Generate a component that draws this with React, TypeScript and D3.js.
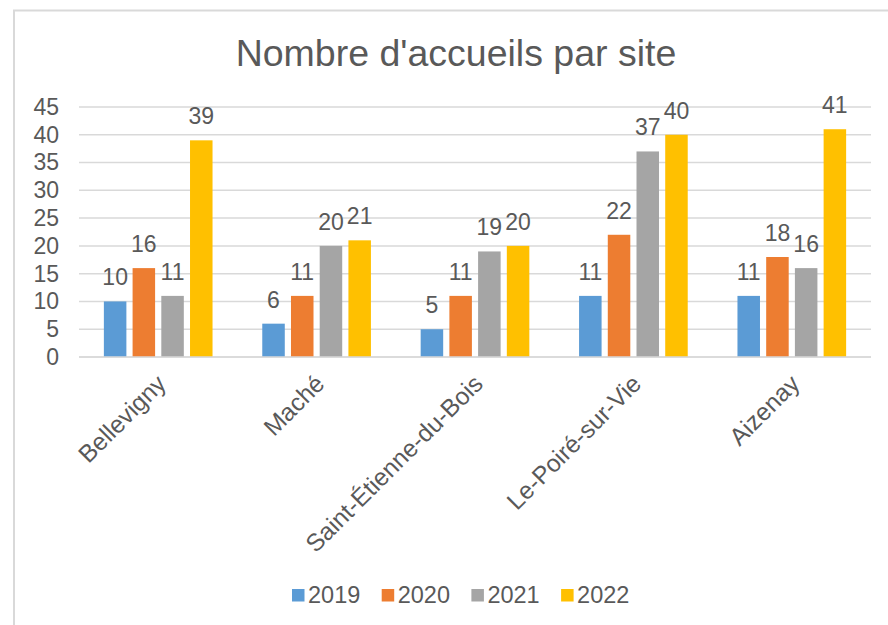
import React, { useEffect, useRef } from "react";
import * as d3 from "d3";

const sites = ["Bellevigny", "Maché", "Saint-Étienne-du-Bois", "Le-Poiré-sur-Vie", "Aizenay"];
const years = ["2019", "2020", "2021", "2022"];
const v2019 = [10, 6, 5, 11, 11];
const v2020 = [16, 11, 11, 22, 18];
const v2021 = [11, 20, 19, 37, 16];
const v2022 = [39, 21, 20, 40, 41];
const yTicks = [0, 5, 10, 15, 20, 25, 30, 35, 40, 45];
const colors = ["#5B9BD5", "#ED7D31", "#A5A5A5", "#FFC000"];

const FONT = "'Liberation Sans', Arial, sans-serif";
const TEXT = "#595959";

export default function App() {
  const ref = useRef<SVGSVGElement>(null);

  useEffect(() => {
    const svg = d3.select(ref.current);
    svg.selectAll("*").remove();

    const series = [v2019, v2020, v2021, v2022];
    const margin = { top: 107, left: 79, right: 17, bottom: 268 };
    const W = 888, H = 625;
    const width = W - margin.left - margin.right;
    const height = H - margin.top - margin.bottom;

    // chart frame
    svg.append("rect")
      .attr("x", 14).attr("y", 10.5)
      .attr("width", 900).attr("height", 700)
      .attr("fill", "#fff").attr("stroke", "#D9D9D9").attr("stroke-width", 2);

    svg.append("text")
      .attr("x", 456).attr("y", 66)
      .attr("text-anchor", "middle")
      .attr("font-size", 37.5)
      .attr("fill", TEXT)
      .text("Nombre d'accueils par site");

    const g = svg.append("g").attr("transform", `translate(${margin.left},${margin.top})`);

    const x0 = d3.scaleBand().domain(sites).range([0, width]).paddingInner(0.314).paddingOuter(0.157);
    const x1 = d3.scaleBand().domain(years).range([0, x0.bandwidth()]).paddingInner(0.216);
    const y = d3.scaleLinear().domain([0, 45]).range([height, 0]);

    // gridlines
    g.append("g").selectAll("line").data(yTicks).enter().append("line")
      .attr("x1", 0).attr("x2", width)
      .attr("y1", d => y(d)).attr("y2", d => y(d))
      .attr("stroke", "#D9D9D9").attr("stroke-width", 1.5);

    const yAxis = g.append("g").call(d3.axisLeft(y).tickValues(yTicks).tickSize(0).tickPadding(20));
    yAxis.select(".domain").remove();
    yAxis.selectAll("text")
      .attr("font-size", 23).attr("font-family", FONT).attr("fill", TEXT);

    const groups = g.selectAll(".grp").data(sites).enter().append("g")
      .attr("transform", d => `translate(${x0(d)},0)`);

    groups.each(function (site, i) {
      const grp = d3.select(this);
      const vals = series.map(s => s[i]);
      grp.selectAll("rect").data(vals).enter().append("rect")
        .attr("x", (d, j) => x1(years[j])!)
        .attr("y", d => y(d))
        .attr("width", x1.bandwidth())
        .attr("height", d => height - y(d))
        .attr("fill", (d, j) => colors[j]);
      grp.selectAll("text").data(vals).enter().append("text")
        .attr("x", (d, j) => x1(years[j])! + x1.bandwidth() / 2)
        .attr("y", d => y(d) - 16)
        .attr("text-anchor", "middle")
        .attr("font-size", 23)
        .attr("fill", TEXT)
        .text(d => d);
    });

    // baseline
    g.append("line").attr("x1", 0).attr("x2", width).attr("y1", height).attr("y2", height)
      .attr("stroke", "#D9D9D9").attr("stroke-width", 1.5);

    // category labels
    g.selectAll(".cat").data(sites).enter().append("text")
      .attr("transform", d => `translate(${x0(d)! + x0.bandwidth() / 2 - 3},${height + 16}) rotate(-45)`)
      .attr("text-anchor", "end")
      .attr("dy", "0.71em")
      .attr("font-size", 24.5)
      .attr("fill", TEXT)
      .text(d => d);

    // legend
    const legend = svg.append("g").attr("transform", "translate(292,589)");
    const item = legend.selectAll("g").data(years).enter().append("g")
      .attr("transform", (d, i) => `translate(${i * 89.7},0)`);
    item.append("rect").attr("width", 12.5).attr("height", 12.5).attr("fill", (d, i) => colors[i]);
    item.append("text").attr("x", 16).attr("y", 14).attr("font-size", 23.5).attr("fill", TEXT).text(d => d);
  }, []);

  return (
    <svg
      ref={ref}
      width={888}
      height={625}
      style={{ position: "absolute", left: 0, top: 0, fontFamily: FONT }}
    />
  );
}
